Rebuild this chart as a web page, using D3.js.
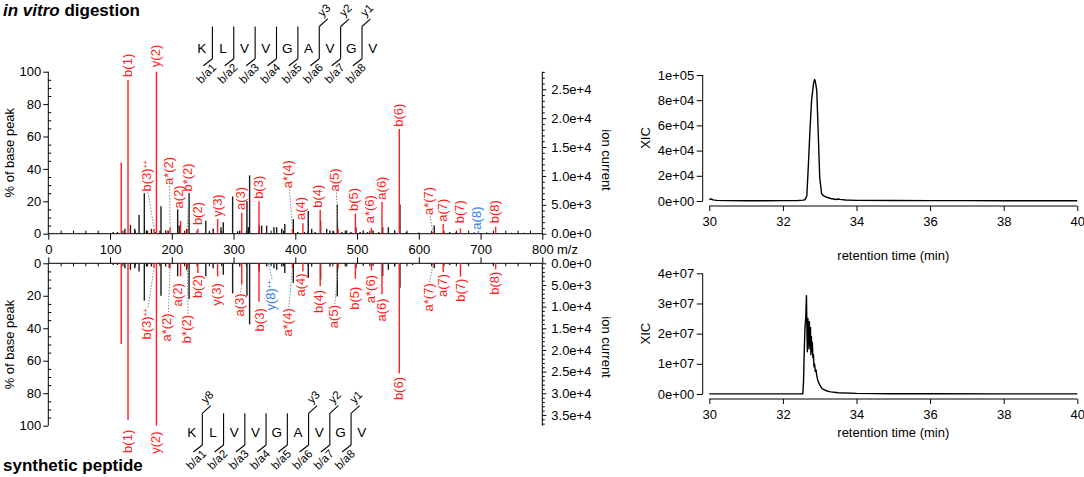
<!DOCTYPE html>
<html><head><meta charset="utf-8">
<script src="https://cdn.jsdelivr.net/npm/d3@7"></script>
<style>body{margin:0;background:#fff} svg{display:block} text{font-family:"Liberation Sans",Arial,Helvetica,sans-serif}</style>
</head><body><svg id="c" width="1084" height="477"></svg>
<script>
// ---------------- DATA ----------------
const mzTicks = [0,100,200,300,400,500,600,700,800];
const pctTicks = [0,20,40,60,80,100];
const ionTopTicks = [0,5000,10000,15000,20000,25000];
const ionBotTicks = [0,5000,10000,15000,20000,25000,30000,35000];
const ionTopBase = 28040;   // ion current of base peak (top)
const ionBotBase = 37480;   // ion current of base peak (bottom)

const sequence = ["K","L","V","V","G","A","V","G","V"];
const topYSites = [6,7,8];
const botYSites = [1,6,7,8];

const ionNames = ["b(1)","y(2)","b(3)++","a*(2)","a(2)","b*(2)","b(2)","y(3)","a(3)","b(3)","a*(4)","a(4)","b(4)","a(5)","b(5)","a*(6)","a(6)","b(6)","a*(7)","a(7)","b(7)","a(8)","b(8)","y(8)++"];
const ionMz = [129.10,175.11,171.13,197.16,214.19,225.16,242.19,274.18,313.26,341.25,395.30,412.33,440.32,469.35,497.34,523.36,540.38,568.38,622.43,639.45,667.45,696.47,724.47,357.23];
const ionAlt = ["a(8)","y(8)++"];   // drawn in blue

const topIonPct   = [94.8,100,3,4,8,3,3,9,13,20,3,6.4,14.6,3,12.5,3.7,19.7,64.6,1,6,3.3,1.6,4.3,null];
const topLabelPct = [96.8,102.8,26,30,15.6,26,5.3,10.5,14.6,21.5,28,8.4,16,26,14,6.4,21,66,11.5,7.4,6.4,2.5,6.4,null];
const topLabelMz  = [128,174,159,194,210.5,225,241.5,273.5,311.5,341,388,408.5,436.5,464,494,520,539,567,616,638.5,666.5,693.5,723,null];
const topLeaders  = ["b(3)++","a*(2)","b*(2)","a*(4)","a(5)","a*(7)"];

const botIonPct   = [96.5,100,3,3,8,3,6,8,13,23.6,3,5,14,3,9.5,4.5,19,67.8,1,5.5,8.2,null,3.7,1];
const botLabelPct = [102.5,103.5,27.7,30.8,12.3,31.8,7.2,12.3,18.5,27.7,27.7,6.2,16.4,25.7,14.4,7.2,21.6,70,12.3,6.5,9.5,null,5.1,10.3];
const botLabelMz  = [128,174,159,192,209,224,241,273,309,342,387,408,437,461.5,495,521,540,567,615,639,667,null,723,360];
const botLeaders  = ["b(3)++","a*(2)","b*(2)","a*(4)","a(5)","a*(7)","y(8)++","a(3)"];

const unlabeledMz = [118.09];
const topUnlabeledPct = [44];
const botUnlabeledPct = [49.7];

const topOtherMz  = [105,112,124,133,140,147,155.5,159,167,173,182.5,190,194,209.5,212,224,228,255,261,267,279.6,283.4,298.5,306.6,310,321.7,324,326,341.7,345.5,353.6,365.4,369.8,378,383,396.8,404,415,421,426.5,432,441,450.8,456,462,468,475,483,490,498.3,505,510,517,526,535,541.5,550.7,561,569.5,580,600,625,640,650,660,690,710,750,770,790];
const topOtherPct = [1,1,3,5.5,3,11.5,25,2,3,1,17,2,2,15,5,3,25,8,1,3,4,7,23,1.5,2,20,4,36,5,5,5,4,4,3,6,9,1,1,14,3,1,8,3,2,1.5,18,1,2,1,4,1,2,1,2,1,4,4,2,18,1,0.8,5,0.8,1,0.8,0.8,0.8,0.6,0.6,0.5];

const botOtherMz  = [105,112,124,133,140,147,155.5,159,167,182.5,190,196,209.5,224,228,255,267,283.4,298.5,310,321.7,326,341.7,353.6,365.4,369.8,378,383,396.8,421,426.5,441,456,468,483,498.3,510,526,541.5,550.7,561,569.5,590,625,650,680,720,760];
const botOtherPct = [1,1,3,4,3,5,23,2,2,20,2,3,8,4,22,8,3,7,18.5,2,20,37.6,5,2,3,4,2,6,12,9,2,10,2,20.5,2,3,1.5,1.5,8,4,2,15,1,3,1,0.8,0.6,0.5];

const xicTopT = [30.0,30.05,30.1,30.2,30.5,31,31.5,32,32.4,32.55,32.6,32.65,32.69,32.74,32.78,32.83,32.86,32.88,32.92,32.96,33.0,33.05,33.1,33.15,33.3,33.45,33.5,33.55,33.7,34,35,36,37,38,39,40];
const xicTopV = [1200,1600,900,500,300,200,250,300,400,700,1000,4000,27000,59000,80000,93000,96500,95000,88000,54000,19000,6000,4200,3400,2000,1200,1600,1300,800,500,400,300,300,250,250,200];

const xicBotT = [30,31,32,32.5,32.54,32.56,32.58,32.6,32.62,32.64,32.655,32.665,32.68,32.69,32.70,32.71,32.72,32.735,32.75,32.76,32.775,32.79,32.80,32.815,32.83,32.845,32.86,32.88,32.9,32.92,32.95,33.0,33.05,33.1,33.2,33.3,33.5,34,35,36,38,40];
const xicBotV = [5e4,5e4,5e4,6e4,1e5,4e6,14e6,22e6,25e6,32.6e6,20e6,14e6,25e6,18e6,23e6,15e6,24e6,16e6,22e6,13e6,19e6,14e6,17e6,12e6,13e6,9e6,10e6,7.5e6,8e6,6e6,4.5e6,3e6,2e6,1.5e6,1e6,7e5,4e5,2e5,1e5,6e4,5e4,5e4];
const xicTicksX = [30,32,34,36,38,40];
const xicTopTicksY = [0,2e4,4e4,6e4,8e4,1e5];
const xicBotTicksY = [0,1e7,2e7,3e7,4e7];

// ---------------- DRAW ----------------
const svg = d3.select("#c");
const RED = "#ff1f1f", BLUE = "#3c82e6", FS = 13;
const x  = d3.scaleLinear().domain([0,800]).range([48.3,542.3]);
const yT = d3.scaleLinear().domain([0,100]).range([233.7,71.7]);
const yB = d3.scaleLinear().domain([0,100]).range([263.3,425.7]);
const yIT = d3.scaleLinear().domain([0,ionTopBase]).range([233.7,71.7]);
const yIB = d3.scaleLinear().domain([0,ionBotBase]).range([263.3,425.7]);

function styleAxis(g){ g.select(".domain").remove(); g.selectAll("text").style("font-size",FS+"px").attr("fill","#000").style("font-family",'"Liberation Sans",Arial,sans-serif'); g.selectAll("line").attr("stroke","#000"); }
const minorMz = d3.range(0,801,20).filter(v=>v%100!==0);
const minorPct = d3.range(0,101,5).filter(v=>v%20!==0);

// spectra x axes
svg.append("g").attr("transform","translate(0,233.7)").call(d3.axisBottom(x).tickValues(mzTicks).tickSize(6).tickSizeOuter(0).tickPadding(5)).call(styleAxis);
svg.append("g").attr("transform","translate(0,233.7)").call(d3.axisTop(x).tickValues(minorMz).tickSize(3).tickFormat("")).call(styleAxis);
svg.append("g").attr("transform","translate(0,263.3)").call(d3.axisTop(x).tickValues(mzTicks).tickSize(6).tickFormat("")).call(styleAxis);
svg.append("g").attr("transform","translate(0,263.3)").call(d3.axisBottom(x).tickValues(minorMz).tickSize(3).tickFormat("")).call(styleAxis);
[233.7,263.3].forEach(yy=>svg.append("line").attr("x1",x(0)).attr("x2",x(800)).attr("y1",yy).attr("y2",yy).attr("stroke","#000"));
svg.append("text").attr("x",557).attr("y",249).attr("dy","0.35em").attr("text-anchor","start").style("font-size",FS+"px").text("m/z");

// left axes
[[yT],[yB]].forEach(([ys])=>{
  svg.append("g").attr("transform",`translate(${x(0)},0)`).call(d3.axisLeft(ys).tickValues(pctTicks).tickSize(5).tickPadding(2)).call(styleAxis);
  svg.append("g").attr("transform",`translate(${x(0)},0)`).call(d3.axisRight(ys).tickValues(minorPct).tickSize(3).tickFormat("")).call(styleAxis);
  svg.append("line").attr("x1",x(0)).attr("x2",x(0)).attr("y1",ys(0)).attr("y2",ys(100)).attr("stroke","#000");
});
svg.append("text").attr("transform",`translate(14,${(yT(0)+yT(100))/2}) rotate(-90)`).attr("text-anchor","middle").style("font-size",FS+"px").text("% of base peak");
svg.append("text").attr("transform",`translate(14,${(yB(0)+yB(100))/2}) rotate(-90)`).attr("text-anchor","middle").style("font-size",FS+"px").text("% of base peak");

// right ion current axes
const fmtIon = d3.format(".1e");
[[yIT,ionTopTicks,ionTopBase,160],[yIB,ionBotTicks,ionBotBase,347]].forEach(([ys,ticks,base,cy])=>{
  const minor = d3.range(0,base,1000).filter(v=>v%5000!==0);
  svg.append("g").attr("transform",`translate(${x(800)},0)`).call(d3.axisRight(ys).tickValues(ticks).tickSize(4).tickPadding(5).tickFormat(fmtIon)).call(styleAxis);
  svg.append("g").attr("transform",`translate(${x(800)},0)`).call(d3.axisRight(ys).tickValues(minor).tickSize(2.5).tickFormat("")).call(styleAxis);
  svg.append("line").attr("x1",x(800)).attr("x2",x(800)).attr("y1",ys(0)).attr("y2",ys(base)).attr("stroke","#000");
  svg.append("text").attr("transform",`translate(607,${cy}) rotate(90)`).attr("text-anchor","middle").attr("dy","0.35em").style("font-size",FS+"px").text("ion current");
});

// peaks
function drawSpectrum(ys, otherMz, otherPct, unlPct, ionPct, labPct, labMz, leaders, top){
  const g = svg.append("g");
  g.selectAll(".o").data(otherMz.map((m,i)=>[m,otherPct[i]])).join("line")
    .attr("x1",d=>x(d[0])).attr("x2",d=>x(d[0])).attr("y1",ys(0)).attr("y2",d=>ys(d[1]))
    .attr("stroke","#1a1a1a").attr("stroke-width",1.4);
  g.selectAll(".u").data(unlabeledMz.map((m,i)=>[m,unlPct[i]])).join("line")
    .attr("x1",d=>x(d[0])).attr("x2",d=>x(d[0])).attr("y1",ys(0)).attr("y2",d=>ys(d[1]))
    .attr("stroke",RED).attr("stroke-width",1.4);
  const ions = ionNames.map((n,i)=>({n,mz:ionMz[i],p:ionPct[i],lp:labPct[i],lm:labMz[i]})).filter(d=>d.p!=null);
  g.selectAll(".i").data(ions).join("line")
    .attr("x1",d=>x(d.mz)).attr("x2",d=>x(d.mz)).attr("y1",ys(0)).attr("y2",d=>ys(d.p))
    .attr("stroke",d=>ionAlt.includes(d.n)?BLUE:RED).attr("stroke-width",1.4);
  const sgn = top?1:-1;
  g.selectAll(".l").data(ions.filter(d=>leaders.includes(d.n))).join("line")
    .attr("x1",d=>x(d.lm)+1.5).attr("y1",d=>ys(d.lp)+sgn*1).attr("x2",d=>x(d.mz)).attr("y2",d=>ys(d.p)-sgn*1)
    .attr("stroke","#888").attr("stroke-width",1).attr("stroke-dasharray","1.5,1.5");
  const t = g.selectAll(".t").data(ions).join("text")
    .attr("transform",d=>`translate(${x(d.lm)},${ys(d.lp)}) rotate(-90)`)
    .attr("text-anchor",top?"start":"end").attr("dy","0.35em")
    .attr("fill",d=>ionAlt.includes(d.n)?BLUE:RED).style("font-size",FS+"px");
  t.each(function(d){
    const el = d3.select(this);
    if(d.n.endsWith("++")){ el.append("tspan").text(d.n.slice(0,-2)); el.append("tspan").attr("dy","-0.45em").style("font-size","7px").text("++"); }
    else el.text(d.n);
  });
}
drawSpectrum(yT, topOtherMz, topOtherPct, topUnlabeledPct, topIonPct, topLabelPct, topLabelMz, topLeaders, true);
drawSpectrum(yB, botOtherMz, botOtherPct, botUnlabeledPct, botIonPct, botLabelPct, botLabelMz, botLeaders, false);

// peptide ladders
function ladder(x0, x1, yTop, yBot, yBase, ySites){
  const px = d3.scaleLinear().domain([0,sequence.length-1]).range([x0,x1]);
  const g = svg.append("g");
  g.selectAll(".aa").data(sequence).join("text").attr("x",(d,i)=>px(i)).attr("y",yBase)
    .attr("text-anchor","middle").style("font-size","13.5px").text(d=>d);
  const sites = d3.range(1,sequence.length);
  g.selectAll(".v").data(sites).join("line").attr("x1",s=>px(s-0.5)).attr("x2",s=>px(s-0.5))
    .attr("y1",yTop).attr("y2",yBot).attr("stroke","#000").attr("stroke-width",1.1);
  g.selectAll(".bf").data(sites).join("line").attr("x1",s=>px(s-0.5)).attr("y1",yBot)
    .attr("x2",s=>px(s-0.5)-9).attr("y2",yBot+7).attr("stroke","#000").attr("stroke-width",1.1);
  g.selectAll(".bt").data(sites).join("text")
    .attr("transform",s=>`translate(${px(s-0.5)+4.6},${yBot+9.5}) rotate(-45)`)
    .attr("text-anchor","end").style("font-size","11.5px").text(s=>"b/a"+s);
  g.selectAll(".yf").data(ySites).join("line").attr("x1",s=>px(s-0.5)).attr("y1",yTop)
    .attr("x2",s=>px(s-0.5)+8.5).attr("y2",yTop-7.7).attr("stroke","#000").attr("stroke-width",1.1);
  g.selectAll(".yt").data(ySites).join("text")
    .attr("transform",s=>`translate(${px(s-0.5)+3.3},${yTop-9.3}) rotate(-45)`)
    .attr("text-anchor","start").style("font-size","11.5px").text(s=>"y"+(sequence.length-s));
}
ladder(201.7, 372.7, 26.5, 58.8, 52.5, topYSites);
ladder(191.7, 361.7, 413.3, 445, 436.5, botYSites);

// titles
const t1 = svg.append("text").attr("x",3).attr("y",15.5).style("font-size","17px").style("font-weight","bold");
t1.append("tspan").style("font-style","italic").text("in vitro");
t1.append("tspan").text(" digestion");
svg.append("text").attr("x",3).attr("y",471).style("font-size","17px").style("font-weight","bold").text("synthetic peptide");

// XIC panels
const xr = d3.scaleLinear().domain([30,40]).range([709.3,1077.3]);
function fmtX(v){ if(v===0) return "0e+00"; const e=Math.floor(Math.log10(v)+1e-9); const m=Math.round(v/Math.pow(10,e)); return m+"e+"+String(e).padStart(2,"0"); }
function xic(T, V, yTicks, ymax, y0, y1, xAxisY, titleY){
  const ys = d3.scaleLinear().domain([0,ymax]).range([y0,y1]);
  svg.append("g").attr("transform","translate(702.7,0)").call(d3.axisLeft(ys).tickValues(yTicks).tickSize(6).tickPadding(2.5).tickFormat(fmtX)).call(styleAxis);
  svg.append("line").attr("x1",702.7).attr("x2",702.7).attr("y1",ys(0)).attr("y2",ys(ymax)).attr("stroke","#000");
  svg.append("g").attr("transform",`translate(0,${xAxisY})`).call(d3.axisBottom(xr).tickValues(xicTicksX).tickSize(5).tickPadding(6)).call(styleAxis);
  svg.append("line").attr("x1",xr(30)).attr("x2",xr(40)).attr("y1",xAxisY).attr("y2",xAxisY).attr("stroke","#000");
  svg.append("path").datum(T.map((t,i)=>[t,V[i]])).attr("fill","none").attr("stroke","#000").attr("stroke-width",1.4)
    .attr("stroke-linejoin","round").attr("d",d3.line().x(d=>xr(d[0])).y(d=>ys(d[1])));
  svg.append("text").attr("transform",`translate(645,${(y0+y1)/2}) rotate(-90)`).attr("text-anchor","middle").attr("dy","0.35em").style("font-size",FS+"px").text("XIC");
  svg.append("text").attr("x",(xr(30)+xr(40))/2).attr("y",titleY).attr("dy","0.35em").attr("text-anchor","middle").style("font-size",FS+"px").text("retention time (min)");
}
xic(xicTopT, xicTopV, xicTopTicksY, 1e5, 201, 75, 206, 255);
xic(xicBotT, xicBotV, xicBotTicksY, 4e7, 394, 273.3, 399, 432.7);
</script></body></html>
